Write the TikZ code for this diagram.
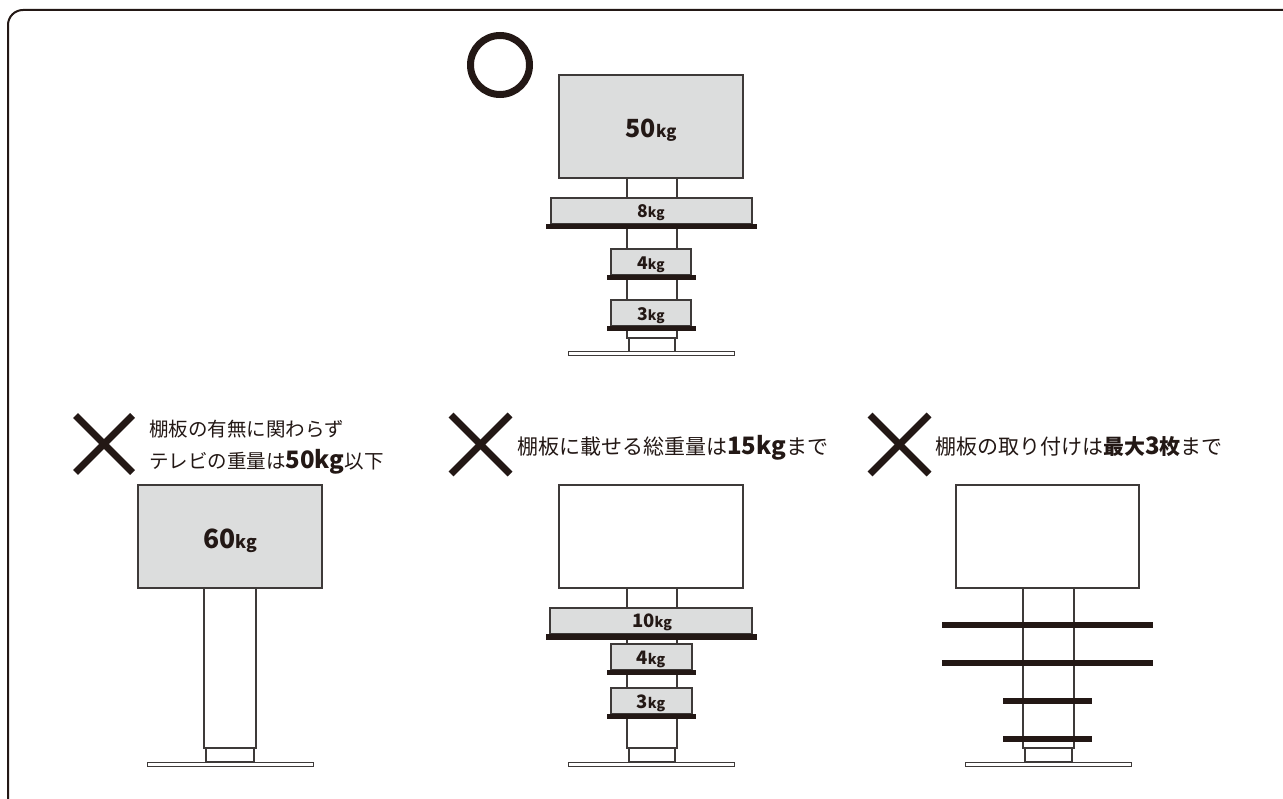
\documentclass[tikz,border=0pt]{standalone}
\usepackage{fontspec}
\newfontfamily\jp{Noto Sans CJK JP}
\definecolor{ink}{HTML}{231815}
\definecolor{lc}{HTML}{3E3A39}
\definecolor{gfill}{HTML}{DCDDDD}
\tikzset{
  outl/.style={draw=lc, line width=1.2pt},
  tvgray/.style={outl, fill=gfill},
  tvwhite/.style={outl, fill=white},
  polebox/.style={outl, fill=white},
  shelfbox/.style={outl, fill=gfill},
  shelfbar/.style={fill=ink},
  baseplate/.style={draw=lc, line width=1pt, fill=white},
  crossline/.style={draw=ink, line width=7pt},
  frameline/.style={draw=ink, line width=2pt, rounded corners=15pt},
  kglbl/.style={inner sep=0pt, anchor=base, text=ink, font=\jp\bfseries},
  jtxt/.style={inner sep=0pt, anchor=base west, text=ink, font=\jp},
}
\newcommand{\kgbig}[3]{{\fontsize{#2}{#2}\selectfont #1}{\fontsize{#3}{#3}\selectfont kg}}
\begin{document}
\begin{tikzpicture}[x=1pt,y=-1pt]
\useasboundingbox (0,0) rectangle (1283,799);
\clip (0,0) rectangle (1283,799);
\fill[white] (0,0) rectangle (1283,799);
\draw[frameline] (8,10) rectangle (1320,812);

% ---------- top (OK) ----------
\draw[ink, line width=7pt] (500,65) circle (29.5pt);
\draw[polebox] (627,178) rectangle (677,338);
\draw[polebox] (629,338) rectangle (675,352);
\draw[baseplate] (568,352) rectangle (734,356);
\draw[tvgray] (559,75) rectangle (743,178);
\draw[shelfbox] (551,198) rectangle (752,224);
\fill[shelfbar] (546,224) rectangle (757,229.5);
\draw[shelfbox] (611,249) rectangle (691,275);
\fill[shelfbar] (607,275) rectangle (696,280.5);
\draw[shelfbox] (611,300) rectangle (691,326);
\fill[shelfbar] (607,326) rectangle (696,331.5);
\node[kglbl] (top50) at (651,137.5) {\kgbig{50}{25}{16.5}};
\node[kglbl] (top8) at (651,218) {\kgbig{8}{17.5}{13.5}};
\node[kglbl] (top4) at (651,269.5) {\kgbig{4}{17.5}{13.5}};
\node[kglbl] (top3) at (651,320.5) {\kgbig{3}{17.5}{13.5}};

% ---------- bottom left ----------
\draw[crossline] (75.5,415.5) -- (132.5,472.5);
\draw[crossline] (132.5,415.5) -- (75.5,472.5);
\node[jtxt, font=\jp\fontsize{19.5}{20}\selectfont] (t1a) at (149,436.5) {棚板の有無に関わらず};
\node[jtxt, font=\jp\fontsize{19.5}{20}\selectfont] (t1b) at (149,469) {テレビの重量は{\bfseries\fontsize{24}{24}\selectfont 50kg}以下};
\draw[polebox] (204,588) rectangle (256,748);
\draw[polebox] (206,748) rectangle (254,762);
\draw[baseplate] (147,762) rectangle (313,766);
\draw[tvgray] (138,485) rectangle (322,588);
\node[kglbl] (left60) at (230,548.5) {\kgbig{60}{26.5}{17.5}};

% ---------- bottom middle ----------
\draw[crossline] (451,415) -- (510,474);
\draw[crossline] (510,415) -- (451,474);
\node[jtxt, font=\jp\fontsize{21}{22}\selectfont] (t2) at (517,454.5) {棚板に載せる総重量は{\bfseries\fontsize{24}{24}\selectfont 15kg}まで};
\draw[polebox] (627,588) rectangle (677,748);
\draw[polebox] (629,748) rectangle (675,762);
\draw[baseplate] (568,762) rectangle (734,766);
\draw[tvwhite] (559,485) rectangle (743,588);
\draw[shelfbox] (550,608) rectangle (752,634);
\fill[shelfbar] (546,634) rectangle (757,639.5);
\draw[shelfbox] (611,644) rectangle (692,669.5);
\fill[shelfbar] (607,669.5) rectangle (696,675);
\draw[shelfbox] (611,688) rectangle (692,713.5);
\fill[shelfbar] (607,713.5) rectangle (696,719);
\node[kglbl] (mid10) at (652,627) {\kgbig{10}{18.5}{14}};
\node[kglbl] (mid4) at (651,664.5) {\kgbig{4}{18.5}{14}};
\node[kglbl] (mid3) at (651,708.5) {\kgbig{3}{18.5}{14}};

% ---------- bottom right ----------
\draw[crossline] (870,415) -- (929,474);
\draw[crossline] (929,415) -- (870,474);
\node[jtxt, font=\jp\fontsize{21}{22}\selectfont] (t3) at (935,454.5) {棚板の取り付けは{\bfseries 最大{\fontsize{24}{24}\selectfont 3}枚}まで};
\draw[polebox] (1023,588) rectangle (1074,748);
\draw[polebox] (1025,748) rectangle (1072,762);
\draw[baseplate] (965,762) rectangle (1131,766);
\draw[tvwhite] (956,485) rectangle (1139,588);
\fill[shelfbar] (942,622) rectangle (1153,628);
\fill[shelfbar] (942,660) rectangle (1153,666);
\fill[shelfbar] (1003,698) rectangle (1092,704);
\fill[shelfbar] (1003,736) rectangle (1092,742);
\end{tikzpicture}
\end{document}
